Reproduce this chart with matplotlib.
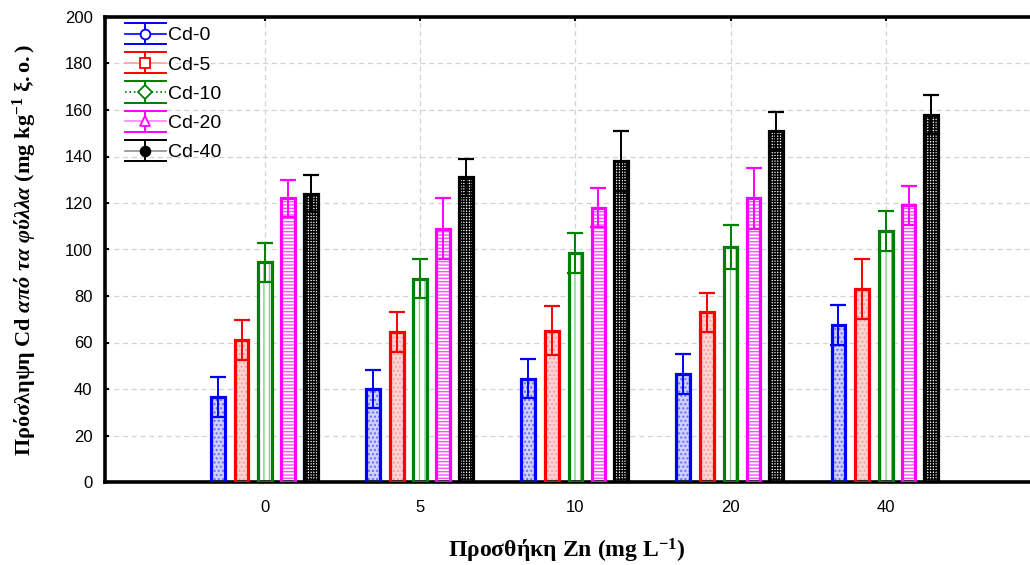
import numpy
import matplotlib
matplotlib.use("Agg")
import matplotlib.pyplot as plt
from matplotlib.lines import Line2D
from matplotlib.legend_handler import HandlerBase

plt.rcParams['font.family'] = ['Liberation Sans', 'DejaVu Sans']
plt.rcParams['mathtext.fontset'] = 'custom'
plt.rcParams['mathtext.rm'] = 'Liberation Serif:bold'
plt.rcParams['mathtext.it'] = 'Liberation Serif:bold:italic'
plt.rcParams['mathtext.bf'] = 'Liberation Serif:bold'
plt.rcParams['hatch.linewidth'] = 1.0

# Zn addition levels (x groups)
zn_labels = ['0', '5', '10', '20', '40']
series = ['Cd-0', 'Cd-5', 'Cd-10', 'Cd-20', 'Cd-40']

# Cd uptake means and errors for each Cd series, per Zn level
cd0 = [36.5, 40, 44.5, 46.5, 67.5]
cd5 = [61, 64.5, 65, 73, 83]
cd10 = [94.5, 87.5, 98.5, 101, 108]
cd20 = [122, 109, 118, 122, 119]
cd40 = [124, 131, 138, 151, 158]

err0 = [8.5, 8, 8.5, 8.5, 8.5]
err5 = [8.5, 8.5, 10.5, 8.5, 13]
err10 = [8.5, 8.5, 8.5, 9.5, 8.5]
err20 = [8, 13, 8.5, 13, 8.5]
err40 = [8, 8, 13, 8, 8.5]

means = [cd0, cd5, cd10, cd20, cd40]
errs = [err0, err5, err10, err20, err40]

colors = ['#0000ff', '#ff0000', '#008000', '#ff00ff', '#000000']
fills = ['#d0d0ff', '#ffd4d4', '#ffffff', '#ffffff', '#ffffff']
hatch_cols = ['#6a6aff', '#ff9c9c', '#90c890', '#ff50ff', '#000000']
hatches = ['....', '....', '|||', '-----', '++++++']
markers = ['o', 's', 'D', '^', 'o']
mfcs = ['white', 'white', 'white', 'white', 'black']
lstyles = ['-', '-', ':', '-', '-']
line_cols = ['#0000ff', '#ffa0a0', '#008000', '#ff80ff', '#909090']


class ErrHandler(HandlerBase):
    # legend key: horizontal line + marker + vertical bar with wide caps
    def create_artists(self, legend, orig_handle, xdescent, ydescent,
                       width, height, fontsize, trans):
        i = orig_handle
        x0, x1 = -xdescent, -xdescent + width
        xc = (x0 + x1) / 2
        yc = -ydescent + height / 2
        h = height * 0.78
        arts = [
            Line2D([x0, x1], [yc, yc], color=line_cols[i], ls=lstyles[i], lw=1.2),
            Line2D([xc, xc], [yc - h, yc + h], color=colors[i], lw=1.4),
            Line2D([x0, x1], [yc - h, yc - h], color=colors[i], lw=1.4),
            Line2D([x0, x1], [yc + h, yc + h], color=colors[i], lw=1.4),
            Line2D([xc], [yc], marker=markers[i], ms=7, mfc=mfcs[i],
                   mec=colors[i], mew=1.3, ls='none'),
        ]
        for a in arts:
            a.set_transform(trans)
        return arts


fig = plt.figure(figsize=(10.3, 5.65), dpi=100)
ax = fig.add_axes([105 / 1030, 1 - 482 / 565, 1 - 105 / 1030, (482 - 17) / 565])

x = numpy.arange(1, 6)
offsets = [-0.305, -0.152, 0.0, 0.148, 0.294]
width = 0.088

for i in range(5):
    xs = x + offsets[i]
    ax.bar(xs, means[i], width=width, color=fills[i], edgecolor=hatch_cols[i],
           hatch=hatches[i], linewidth=0, zorder=2)
    ax.bar(xs, means[i], width=width, fill=False, edgecolor=colors[i],
           linewidth=2.3, zorder=3)
    ax.errorbar(xs, means[i], yerr=errs[i], fmt='none', ecolor=colors[i],
                elinewidth=1.4, capsize=5.5, capthick=1.6, zorder=4)

ax.set_xlim(-0.032, 5.93)
ax.set_ylim(0, 200)
ax.set_yticks(numpy.arange(0, 201, 20))
ax.set_xticks(x)
ax.set_xticklabels(zn_labels)

ax.grid(True, linestyle=(0, (4, 3)), color='#d3d3d3', linewidth=0.9, zorder=0)
ax.set_axisbelow(True)

ax.tick_params(axis='both', direction='in', length=3, width=1.5, labelsize=12,
               top=True, right=False)
ax.tick_params(axis='y', pad=9)
ax.tick_params(axis='x', pad=13)

for s in ['left', 'top', 'bottom']:
    ax.spines[s].set_linewidth(2.6)
ax.spines['right'].set_visible(False)

ax.legend(list(range(5)), series, handler_map={int: ErrHandler()},
          loc='upper left', bbox_to_anchor=(0.011, 1.0),
          frameon=False, fontsize=14, handlelength=2.1, handletextpad=0.12,
          labelspacing=0.6, borderaxespad=0.1)

fig.text(25 / 1030, 1 - 250 / 565,
         r'$\mathrm{Πρόσληψη\ Cd\ }\mathit{από\ τα\ φύλλα}\mathrm{\ (mg\ kg^{-1}\ ξ.ο.)}$',
         rotation=90, ha='center', va='center', fontsize=16)
fig.text(567 / 1030, 1 - 551 / 565, r'$\mathrm{Προσθήκη\ Zn\ (mg\ L^{-1})}$',
         ha='center', va='center', fontsize=17)

fig.savefig('out.png', dpi=100)
